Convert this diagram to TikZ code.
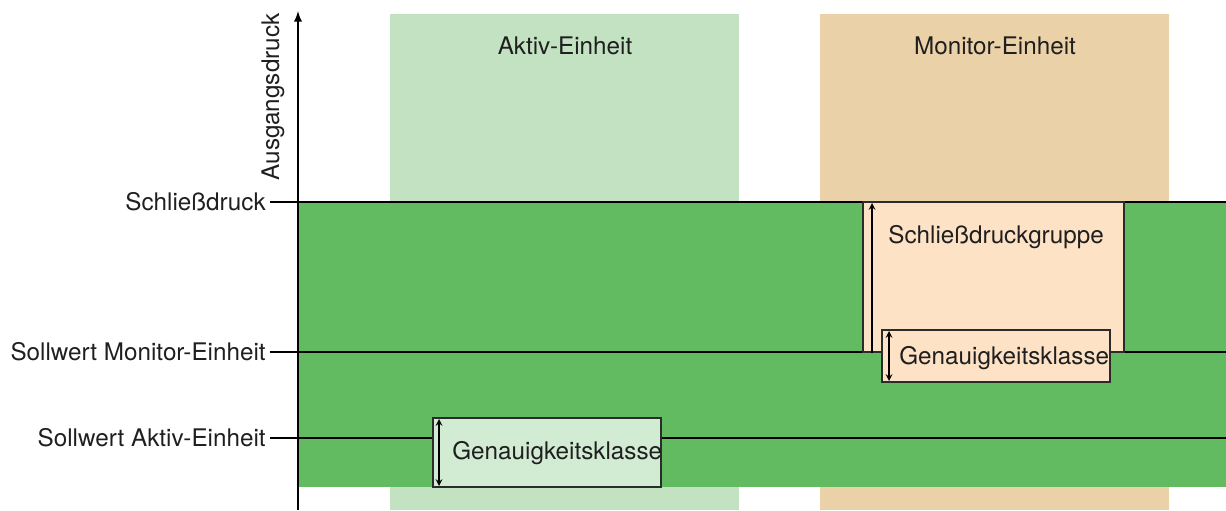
\documentclass[tikz,border=0pt]{standalone}
\usepackage{fontspec}
\setmainfont{TeX Gyre Heros}
\usetikzlibrary{arrows, positioning, calc}

\definecolor{aktivcol}{HTML}{C3E2C2}
\definecolor{monitorcol}{HTML}{EAD1A7}
\definecolor{bandgreen}{HTML}{62BB60}
\definecolor{gruppefill}{HTML}{FDE2C5}
\definecolor{genafill}{HTML}{D2EBD3}
\definecolor{randcol}{HTML}{2B2B2B}

\begin{document}
\begin{tikzpicture}[x=0.02cm, y=-0.02cm]
    \tikzstyle{txt} = [font=\fontsize{13.8}{16}\selectfont, text=black!88, inner sep=0.08cm]
    \tikzstyle{pegel} = [line width=1.1pt, black]
    \tikzstyle{achsenpfeil} = [line width=1.1pt, black, ->, >=latex]
    \tikzstyle{kasten} = [rectangle, draw=randcol, line width=1.1pt, inner sep=0]
    \tikzstyle{masspfeil} = [line width=0.7pt, black, >=stealth]

    \useasboundingbox (0,0) rectangle (1226,510);

    % Spalten und Band
    \fill[aktivcol] (390,14) rectangle (739,510);
    \fill[monitorcol] (820,14) rectangle (1169,510);
    \fill[bandgreen] (298,202) rectangle (1226,487);

    \node[txt] (aktiv) at (565,46) {Aktiv-Einheit};
    \node[txt] (monitor) at (995,46) {Monitor-Einheit};

    % Pegel
    \node[txt, anchor=east] (schliess) at (270,202) {Schließdruck};
    \node[txt, anchor=east] (sollmon) at (270,352) {Sollwert Monitor-Einheit};
    \node[txt, anchor=east] (sollakt) at (270,438) {Sollwert Aktiv-Einheit};
    \coordinate (schliessEnde) at (1226,202);
    \coordinate (sollmonEnde) at (1226,352);
    \coordinate (sollaktEnde) at (1226,438);
    \draw[pegel] (schliess.east) -- (schliessEnde);
    \draw[pegel] (sollmon.east) -- (sollmonEnde);
    \draw[pegel] (sollakt.east) -- (sollaktEnde);

    % Achse
    \coordinate (ursprung) at (298,510);
    \coordinate (spitze) at (298,11);
    \draw[achsenpfeil] (ursprung) -- (spitze);
    \node[txt, rotate=90] (ausgang) at (273,97) {Ausgangsdruck};

    % Schliessdruckgruppe
    \node[kasten, fill=gruppefill, minimum width=5.22cm, minimum height=3cm] (gruppe) at (993.5,277) {};
    \node[txt, anchor=west, inner sep=0] (gruppetxt) at (888,237) {Schließdruckgruppe};
    \draw[masspfeil, ->] ($(gruppe.south west)+(10,0)$) -- ($(gruppe.north west)+(10,2)$);

    % Genauigkeitsklassen
    \node[kasten, fill=gruppefill, minimum width=4.56cm, minimum height=1.04cm] (genmon) at (996,356) {};
    \node[txt, anchor=west, inner sep=0] (genmontxt) at (899,358) {Genauigkeitsklasse};
    \draw[masspfeil, <->] ($(genmon.north west)+(8,2)$) -- ($(genmon.south west)+(8,-2)$);

    \node[kasten, fill=genafill, minimum width=4.56cm, minimum height=1.38cm] (genakt) at (547,452.5) {};
    \node[txt, anchor=west, inner sep=0] (genakttxt) at (452,453) {Genauigkeitsklasse};
    \draw[masspfeil, <->] ($(genakt.north west)+(7,2)$) -- ($(genakt.south west)+(7,-2)$);
\end{tikzpicture}
\end{document}
